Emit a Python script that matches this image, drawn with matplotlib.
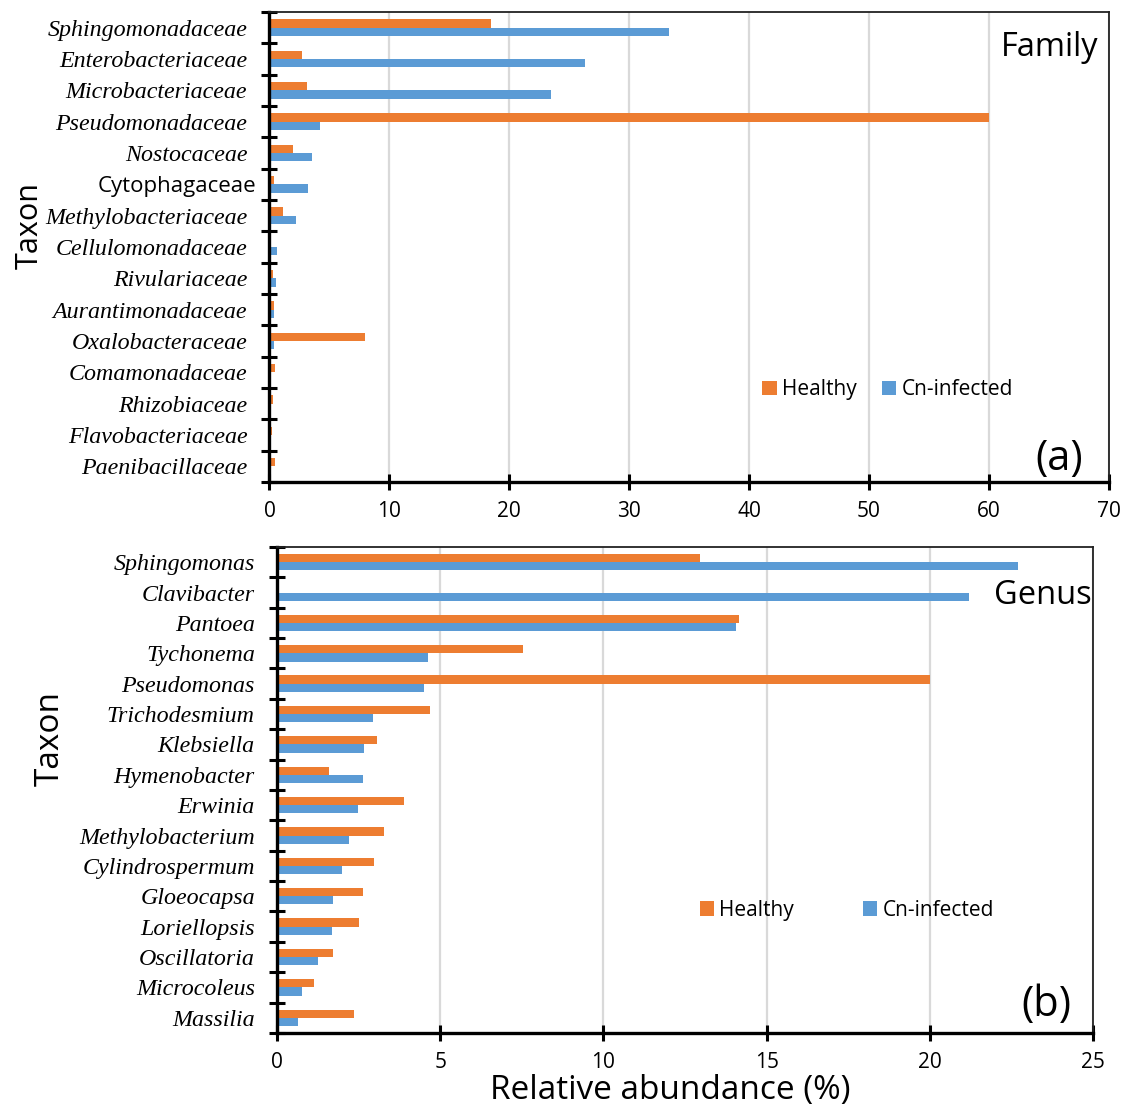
import matplotlib.pyplot as plt
import matplotlib.transforms as mtransforms
import numpy as np

plt.rcParams['font.family'] = ['Open Sans', 'DejaVu Sans']

ORANGE = '#ED7D31'
BLUE = '#5B9BD5'

# Family level (top to bottom)
family_names = ['Sphingomonadaceae', 'Enterobacteriaceae', 'Microbacteriaceae',
                'Pseudomonadaceae', 'Nostocaceae', 'Cytophagaceae',
                'Methylobacteriaceae', 'Cellulomonadaceae', 'Rivulariaceae',
                'Aurantimonadaceae', 'Oxalobacteraceae', 'Comamonadaceae',
                'Rhizobiaceae', 'Flavobacteriaceae', 'Paenibacillaceae']
family_healthy = [18.5, 2.7, 3.1, 60.0, 2.0, 0.35, 1.1, 0.0, 0.3, 0.35, 8.0, 0.5, 0.27, 0.25, 0.5]
family_infected = [33.3, 26.3, 23.5, 4.25, 3.55, 3.25, 2.2, 0.6, 0.55, 0.4, 0.35, 0.0, 0.0, 0.0, 0.0]

# Genus level (top to bottom)
genus_names = ['Sphingomonas', 'Clavibacter', 'Pantoea', 'Tychonema', 'Pseudomonas',
               'Trichodesmium', 'Klebsiella', 'Hymenobacter', 'Erwinia',
               'Methylobacterium', 'Cylindrospermum', 'Gloeocapsa', 'Loriellopsis',
               'Oscillatoria', 'Microcoleus', 'Massilia']
genus_healthy = [12.95, 0.05, 14.15, 7.55, 20.0, 4.7, 3.05, 1.6, 3.9, 3.28, 2.97, 2.63, 2.5, 1.7, 1.12, 2.37]
genus_infected = [22.7, 21.2, 14.05, 4.62, 4.5, 2.95, 2.68, 2.63, 2.48, 2.2, 2.0, 1.73, 1.68, 1.25, 0.75, 0.65]


def draw_panel(ax, names, healthy, infected, xmax, xstep, tag, level, leg_pos, colspace):
    n = len(names)
    y = np.arange(n)
    h = 0.27
    ax.barh(y - h / 2, healthy, height=h, color=ORANGE, label='Healthy')
    ax.barh(y + h / 2, infected, height=h, color=BLUE, label='Cn-infected')

    ax.set_xlim(0, xmax)
    ax.set_ylim(n - 0.5, -0.5)
    ax.set_xticks(np.arange(0, xmax + 1, xstep))
    ax.grid(axis='x', color='#D9D9D9', lw=1.6)
    ax.set_axisbelow(True)

    # category boundaries carry the tick marks, centres carry the names
    ax.set_yticks(np.arange(n + 1) - 0.5)
    ax.set_yticklabels([])
    ax.set_yticks(y, minor=True)
    ax.set_yticklabels(names, minor=True, family='Liberation Serif',
                       style='italic', fontsize=17.3)
    ax.tick_params(axis='y', which='major', direction='inout', length=12, width=2.2)
    ax.tick_params(axis='y', which='minor', length=0, pad=16)
    ax.tick_params(axis='x', direction='inout', length=12, width=2.2,
                   labelsize=15, pad=8)

    for side in ['left', 'bottom']:
        ax.spines[side].set_linewidth(2.4)
    for side in ['right', 'top']:
        ax.spines[side].set_linewidth(1.3)
        ax.spines[side].set_color('#222222')

    ax.text(tag[1], tag[2], tag[0], transform=ax.transAxes, ha='right', va='bottom',
            fontsize=30)
    ax.text(level[1], level[2], level[0], transform=ax.transAxes, ha='right',
            va='center', fontsize=23.5)

    ax.legend(loc='center left', bbox_to_anchor=leg_pos, ncol=2, frameon=False,
              fontsize=15, handlelength=0.7, handleheight=0.7,
              handletextpad=0.25, columnspacing=colspace, borderpad=0)


fig = plt.figure(figsize=(11.4, 11.1), dpi=100)
ax_a = fig.add_axes([0.2364, 0.5658, 0.7360, 0.4234])
ax_b = fig.add_axes([0.2430, 0.0694, 0.7158, 0.4378])

draw_panel(ax_a, family_names, family_healthy, family_infected, 70, 10,
           ('(a)', 0.970, 0.005), ('Family', 0.988, 0.925), (0.575, 0.196), 1.2)
draw_panel(ax_b, genus_names, genus_healthy, genus_infected, 25, 5,
           ('(b)', 0.973, 0.015), ('Genus', 0.999, 0.9), (0.505, 0.253), 3.3)

# Cytophagaceae is set upright in a sans face, sitting a little further right
shift = mtransforms.ScaledTranslation(9 / 100, 0, fig.dpi_scale_trans)
for lab in ax_a.get_yticklabels(minor=True):
    if lab.get_text() == 'Cytophagaceae':
        lab.set_family(['Open Sans', 'DejaVu Sans'])
        lab.set_style('normal')
        lab.set_fontsize(16)
        lab.set_transform(lab.get_transform() + shift)

fig.text(0.026, 0.797, 'Taxon', rotation=90, ha='center', va='center', fontsize=22)
fig.text(0.044, 0.335, 'Taxon', rotation=90, ha='center', va='center', fontsize=24)
fig.text(0.588, 0.018, 'Relative abundance (%)', ha='center', va='center', fontsize=24)

fig.savefig('out.png', dpi=100)
